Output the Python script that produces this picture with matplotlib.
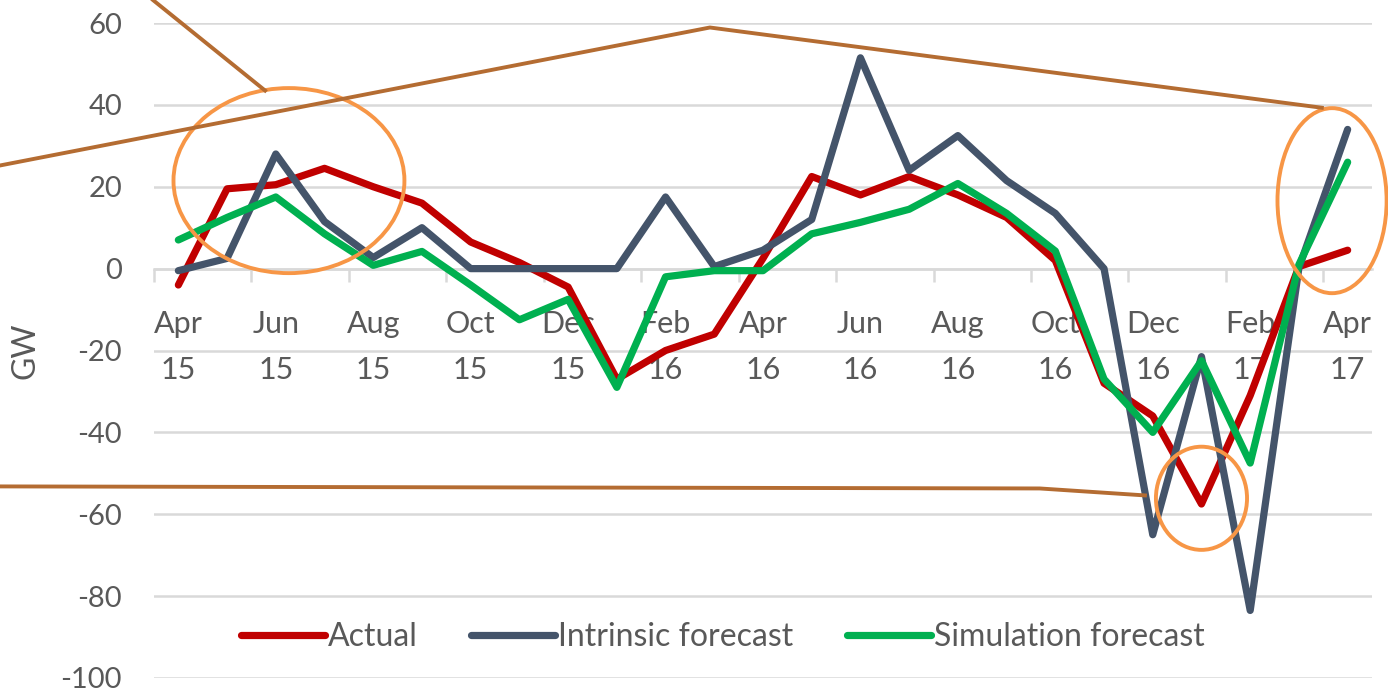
import numpy as np
import matplotlib
matplotlib.use("Agg")
import matplotlib.pyplot as plt
from matplotlib.patches import Ellipse

plt.rcParams['font.family'] = ['Lato', 'DejaVu Sans']
plt.rcParams['axes.unicode_minus'] = False

# monthly net flows, GW
months = ["Apr 15", "May 15", "Jun 15", "Jul 15", "Aug 15", "Sep 15", "Oct 15", "Nov 15",
          "Dec 15", "Jan 16", "Feb 16", "Mar 16", "Apr 16", "May 16", "Jun 16", "Jul 16",
          "Aug 16", "Sep 16", "Oct 16", "Nov 16", "Dec 16", "Jan 17", "Feb 17", "Mar 17",
          "Apr 17"]
actual = [-4, 19.5, 20.5, 24.5, 20, 16, 6.5, 1.5, -4.5, -27, -20, -16, 2.5,
          22.5, 18, 22.5, 18, 12.5, 2, -28, -36, -57.5, -31, 0.5, 4.5]
intrinsic = [-0.5, 2.5, 28, 11.5, 2.7, 10, 0, 0, 0, 0, 17.5, 0.5, 4.5,
             12, 51.5, 24, 32.5, 21.5, 13.5, 0, -65, -21.5, -83.5, 0.2, 34]
simulation = [7, 12.5, 17.5, 8.5, 0.8, 4.2, -4, -12.5, -7.5, -29, -2, -0.5, -0.5,
              8.5, 11.3, 14.5, 20.8, 13.5, 4.3, -27, -40, -22.5, -47.5, 1, 26]

# callouts (category index, GW)
callout_lines = [
    [(-0.52, 65.6), (1.78, 43.5)],
    [(-3.66, 25.2), (10.91, 58.9), (23.47, 39.3)],
    [(-3.66, -53.2), (17.68, -53.7), (19.84, -55.4)],
]
circles = [  # centre x, centre y, width, height
    (2.27, 21.5, 4.74, 45.2),
    (23.68, 16.6, 2.24, 45.2),
    (21.0, -56.1, 1.87, 25.2),
]

grey = '#595959'
grid = '#D9D9D9'

fig = plt.figure(figsize=(13.88, 6.90), dpi=100)
ax = fig.add_axes([154/1388, 12/690, 1218/1388, 655/690])

x = np.arange(len(months))
ax.plot(x, actual, color='#C00000', lw=5.2, label='Actual',
        solid_capstyle='round', solid_joinstyle='round', zorder=3)
ax.plot(x, intrinsic, color='#44546A', lw=5.2, label='Intrinsic forecast',
        solid_capstyle='round', solid_joinstyle='round', zorder=3)
ax.plot(x, simulation, color='#00B050', lw=5.2, label='Simulation forecast',
        solid_capstyle='round', solid_joinstyle='round', zorder=3)

ax.set_xlim(-0.5, len(months) - 0.5)
ax.set_ylim(-100, 60)
ax.set_yticks(range(-100, 61, 20))
ax.set_yticklabels([str(v) for v in range(-100, 61, 20)])
ax.yaxis.grid(True, color=grid, lw=1.8)
ax.set_axisbelow(True)
ax.tick_params(axis='y', length=0, pad=23, labelsize=21, labelcolor=grey)

for s in ['top', 'right', 'left']:
    ax.spines[s].set_visible(False)
ax.spines['bottom'].set_position(('data', 0))
ax.spines['bottom'].set_color(grid)
ax.spines['bottom'].set_linewidth(1.8)

ax.set_xticks(x[::2])
ax.set_xticklabels([m.replace(' ', '\n') for m in months[::2]], linespacing=1.75)
ax.set_xticks(np.arange(-0.5, len(months) - 1, 2), minor=True)
ax.tick_params(axis='x', which='major', length=0, pad=30, labelsize=22, labelcolor=grey)
ax.tick_params(axis='x', which='minor', length=9, width=1.8, color=grid, direction='out')

ax.set_ylabel('GW', fontsize=23, color=grey)
ax.yaxis.set_label_coords(-113/1218, 0.5)

ax.legend(loc='center', bbox_to_anchor=(0.467, 0.0626), ncol=3, frameon=False,
          fontsize=23, labelcolor=grey, handlelength=2.63, handletextpad=0.1,
          columnspacing=1.66)

for pts in callout_lines:
    xs, ys = zip(*pts)
    ax.plot(xs, ys, color='#B46C32', lw=2.8, clip_on=False, zorder=5)
for cx, cy, w, h in circles:
    ax.add_patch(Ellipse((cx, cy), w, h, fill=False, edgecolor='#F79646',
                         lw=2.8, clip_on=False, zorder=4))

fig.savefig('out.png', dpi=100)
